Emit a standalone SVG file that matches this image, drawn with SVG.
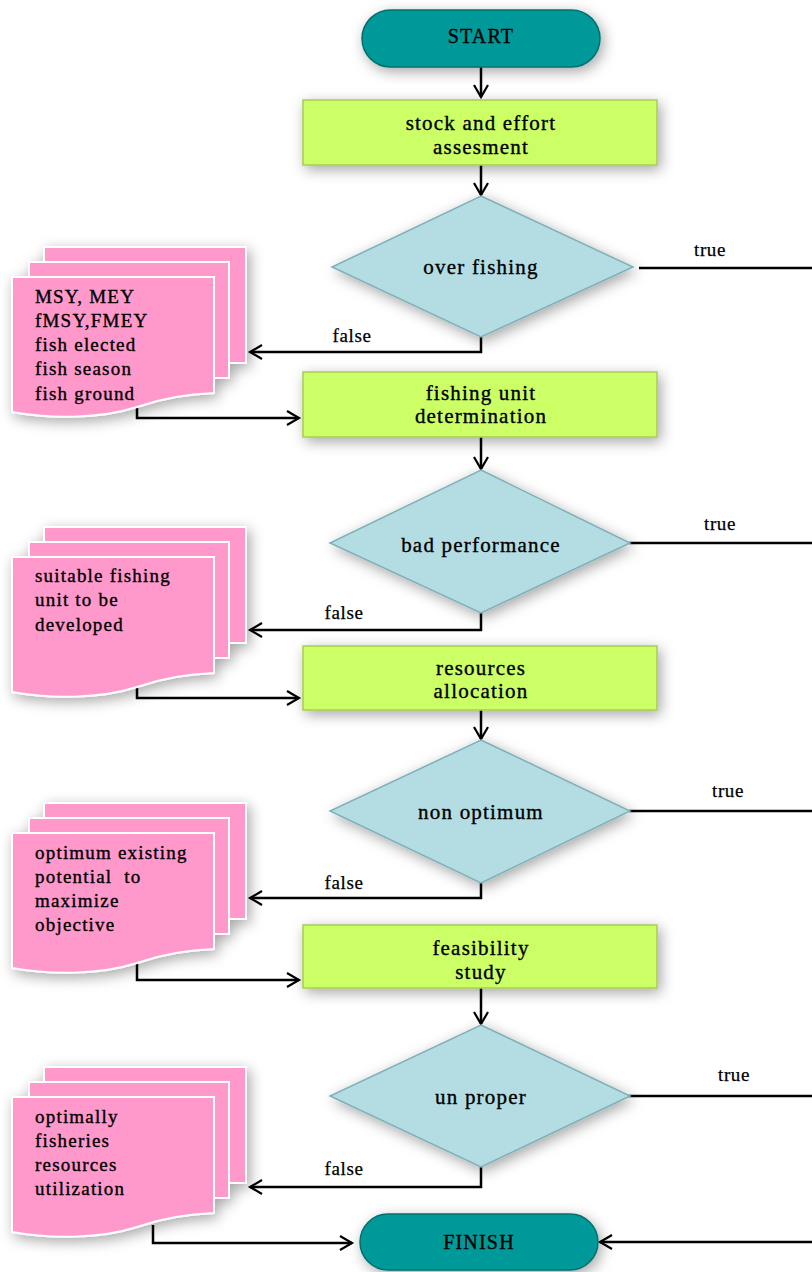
<svg xmlns="http://www.w3.org/2000/svg" xmlns:xlink="http://www.w3.org/1999/xlink" width="812" height="1272" viewBox="0 0 812 1272">
<defs>
<filter id="sh" x="-30%" y="-30%" width="160%" height="160%">
<feDropShadow dx="3" dy="4" stdDeviation="7" flood-color="#000" flood-opacity="0.35"/>
</filter>
<marker id="ah" markerWidth="16" markerHeight="16" refX="13" refY="8" orient="auto" markerUnits="userSpaceOnUse">
<path d="M1,1 L13,8 L1,15" fill="none" stroke="#000" stroke-width="2.2"/>
</marker>
<g id="doc">
<path d="M44,0 H246 V116 H44 Z" fill="#ff99cc" stroke="#fff" stroke-width="2"/>
<path d="M29,15 H229 V131 H29 Z" fill="#ff99cc" stroke="#fff" stroke-width="2"/>
<path d="M12,30 H214 V146 C185,147 160,152 137,160 C100,172 50,172 12,165 Z" fill="#ff99cc" stroke="#fff" stroke-width="2"/>
</g>
</defs>
<style>
.pill{fill:#009999;stroke:#007070;stroke-width:1.5}
.box{fill:#ccff66;stroke:#a9cc55;stroke-width:1.5}
.dia{fill:#b4dde3;stroke:#7fb0b7;stroke-width:1.5}
.c{fill:none;stroke:#000;stroke-width:2.5}
.t{font-family:"Liberation Serif",serif;font-size:21px;fill:#000;stroke:#000;stroke-width:0.35;letter-spacing:1.2px;text-anchor:middle}
.d{font-family:"Liberation Serif",serif;font-size:19px;fill:#000;stroke:#000;stroke-width:0.35;letter-spacing:1.2px;white-space:pre}
.l{font-family:"Liberation Serif",serif;font-size:19px;fill:#000;stroke:#000;stroke-width:0.25;letter-spacing:0.6px;text-anchor:middle}
</style>
<rect width="812" height="1272" fill="#fff"/>

<g id="connectors">
<path class="c" d="M481,67 V97" marker-end="url(#ah)"/>
<path class="c" d="M481,165 V195" marker-end="url(#ah)"/>
<path class="c" d="M481,437 V469" marker-end="url(#ah)"/>
<path class="c" d="M481,710 V739" marker-end="url(#ah)"/>
<path class="c" d="M481,988 V1024" marker-end="url(#ah)"/>
<path class="c" d="M481,337 V352 H250" marker-end="url(#ah)"/>
<path class="c" d="M481,613 V630 H250" marker-end="url(#ah)"/>
<path class="c" d="M481,883 V898 H250" marker-end="url(#ah)"/>
<path class="c" d="M481,1167 V1187 H250" marker-end="url(#ah)"/>
<path class="c" d="M137,407 V418 H299" marker-end="url(#ah)"/>
<path class="c" d="M137,687 V698 H299" marker-end="url(#ah)"/>
<path class="c" d="M137,963 V980 H299" marker-end="url(#ah)"/>
<path class="c" d="M153,1225 V1243 H352" marker-end="url(#ah)"/>
<path class="c" d="M639,268 H812"/>
<path class="c" d="M629,543 H812"/>
<path class="c" d="M629,811 H812"/>
<path class="c" d="M628,1096 H812"/>
<path class="c" d="M820,268 V1242"/>
<path class="c" d="M812,1242 H600" marker-end="url(#ah)"/>
<text class="l" x="710" y="256">true</text>
<text class="l" x="720" y="530">true</text>
<text class="l" x="728" y="797">true</text>
<text class="l" x="734" y="1081">true</text>
<text class="l" x="352" y="342">false</text>
<text class="l" x="344" y="619">false</text>
<text class="l" x="344" y="889">false</text>
<text class="l" x="344" y="1175">false</text>
</g>

<g id="start">
<rect class="pill" x="362" y="10" width="238" height="57" rx="28.5" filter="url(#sh)"/>
<text class="t" x="481" y="43" style="font-size:20px">START</text>
</g>

<g id="box1">
<rect class="box" x="303" y="100" width="354" height="65" filter="url(#sh)"/>
<text class="t" x="481" y="130">stock and effort</text>
<text class="t" x="481" y="154">assesment</text>
</g>

<g id="dia1">
<polygon class="dia" points="481,196 633,267 481,337 332,267" filter="url(#sh)"/>
<text class="t" x="481" y="274">over fishing</text>
</g>

<g id="doc1">
<use xlink:href="#doc" href="#doc" x="0" y="247" filter="url(#sh)"/>
<text class="d" x="35" y="303">MSY, MEY</text>
<text class="d" x="35" y="327">fMSY,FMEY</text>
<text class="d" x="35" y="351">fish elected</text>
<text class="d" x="35" y="375">fish season</text>
<text class="d" x="35" y="400">fish ground</text>
</g>

<g id="box2">
<rect class="box" x="303" y="372" width="354" height="65" filter="url(#sh)"/>
<text class="t" x="481" y="400">fishing unit</text>
<text class="t" x="481" y="423">determination</text>
</g>

<g id="dia2">
<polygon class="dia" points="481,470 630,543 481,613 330,543" filter="url(#sh)"/>
<text class="t" x="481" y="552">bad performance</text>
</g>

<g id="doc2">
<use xlink:href="#doc" href="#doc" x="0" y="527" filter="url(#sh)"/>
<text class="d" x="35" y="582">suitable fishing</text>
<text class="d" x="35" y="606">unit to be</text>
<text class="d" x="35" y="631">developed</text>
</g>

<g id="box3">
<rect class="box" x="303" y="646" width="354" height="64" filter="url(#sh)"/>
<text class="t" x="481" y="675">resources</text>
<text class="t" x="481" y="698">allocation</text>
</g>

<g id="dia3">
<polygon class="dia" points="481,740 630,811 481,883 330,811" filter="url(#sh)"/>
<text class="t" x="481" y="819">non optimum</text>
</g>

<g id="doc3">
<use xlink:href="#doc" href="#doc" x="0" y="803" filter="url(#sh)"/>
<text class="d" x="35" y="859">optimum existing</text>
<text class="d" x="35" y="883" xml:space="preserve">potential  to</text>
<text class="d" x="35" y="907">maximize</text>
<text class="d" x="35" y="931">objective</text>
</g>

<g id="box4">
<rect class="box" x="303" y="925" width="354" height="63" filter="url(#sh)"/>
<text class="t" x="481" y="955">feasibility</text>
<text class="t" x="481" y="979">study</text>
</g>

<g id="dia4">
<polygon class="dia" points="481,1025 630,1096 481,1167 330,1096" filter="url(#sh)"/>
<text class="t" x="481" y="1104">un proper</text>
</g>

<g id="doc4">
<use xlink:href="#doc" href="#doc" x="0" y="1067" filter="url(#sh)"/>
<text class="d" x="35" y="1123">optimally</text>
<text class="d" x="35" y="1147">fisheries</text>
<text class="d" x="35" y="1171">resources</text>
<text class="d" x="35" y="1195">utilization</text>
</g>

<g id="finish">
<rect class="pill" x="360" y="1214" width="238" height="56" rx="28" filter="url(#sh)"/>
<text class="t" x="479" y="1249" style="font-size:20px">FINISH</text>
</g>
</svg>
